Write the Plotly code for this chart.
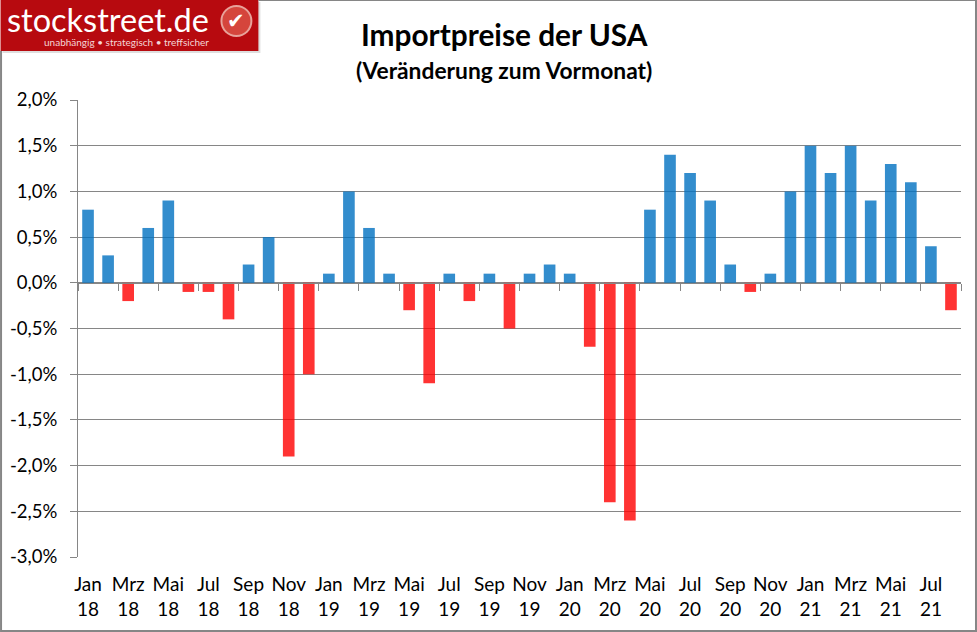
import plotly.graph_objects as go

months = ["Jan","Feb","Mrz","Apr","Mai","Jun","Jul","Aug","Sep","Okt","Nov","Dez"]*3 + ["Jan","Feb","Mrz","Apr","Mai","Jun","Jul","Aug"]
years = ["18"]*12 + ["19"]*12 + ["20"]*12 + ["21"]*8
values = [0.8,0.3,-0.2,0.6,0.9,-0.1,-0.1,-0.4,0.2,0.5,-1.9,-1.0,
          0.1,1.0,0.6,0.1,-0.3,-1.1,0.1,-0.2,0.1,-0.5,0.1,0.2,
          0.1,-0.7,-2.4,-2.6,0.8,1.4,1.2,0.9,0.2,-0.1,0.1,1.0,
          1.5,1.2,1.5,0.9,1.3,1.1,0.4,-0.3]
y_ticks = [2.0,1.5,1.0,0.5,0.0,-0.5,-1.0,-1.5,-2.0,-2.5,-3.0]
y_labels = ["2,0%","1,5%","1,0%","0,5%","0,0%","-0,5%","-1,0%","-1,5%","-2,0%","-2,5%","-3,0%"]

BLUE = "rgba(0,112,192,0.8)"
RED = "rgba(255,0,0,0.8)"
GREY = "#868686"
FONT = "Lato"
W, H = 977, 632
L, R, T, B = 77.5, 961, 100, 557
xs = list(range(len(values)))
x_range = [-0.5, len(values)-0.5]

fig = go.Figure()
fig.add_trace(go.Bar(x=xs, y=values, marker=dict(color=[BLUE if v >= 0 else RED for v in values], line_width=0),
                     width=0.58, showlegend=False))
for ax in ("x2", "x3"):
    fig.add_trace(go.Scatter(x=xs, y=values, xaxis=ax, mode="markers", marker=dict(opacity=0, size=1),
                             showlegend=False, hoverinfo="skip"))

def px(x): return (x - L) / (R - L)
def py(y): return (B - y) / (B - T)

def box(kind, x0, x1, y0, y1, fill):
    return dict(type=kind, xref="paper", yref="paper", x0=px(x0), x1=px(x1), y0=py(y0), y1=py(y1),
                fillcolor=fill, line_width=0)
def seg(x0, x1, y0, y1, width):
    return dict(type="line", xref="paper", yref="paper", x0=px(x0), x1=px(x1), y0=py(y0), y1=py(y1),
                line=dict(color=GREY, width=width))

shapes = [
    box("rect", 2, 260, 2, 53, "#dedede"),
    box("rect", 0, 258, 0, 51, "#b70a0f"),
    box("circle", 220, 252, 5, 37, "#e8a29a"),
    box("circle", 222, 250, 7, 35, "#d5453c"),
    seg(258, 977, 0.5, 0.5, 1),
    seg(976, 976, 0, 632, 2),
    seg(0, 977, 631, 631, 2),
    seg(0.5, 0.5, 51, 632, 2),
]

def note(text, x, y, size, color="black", bold=False, family=FONT, anchor="center"):
    return dict(text=f"<b>{text}</b>" if bold else text, xref="paper", yref="paper", x=px(x), y=py(y),
                xanchor=anchor, yanchor="middle", showarrow=False,
                font=dict(size=size, color=color, family=family))

annotations = [
    note("Importpreise der USA", 504, 35, 29.8, bold=True),
    note("(Veränderung zum Vormonat)", 504, 70, 22.8, bold=True),
    note("stockstreet.de", 4, 19, 32.5, color="white", anchor="left"),
    note("unabhängig • strategisch • treffsicher", 126, 42, 10, color="#f3d6d6"),
    note("✔", 236, 21, 21, color="white", family="DejaVu Sans"),
]

fig.update_layout(
    width=W, height=H, paper_bgcolor="white", plot_bgcolor="white",
    margin=dict(l=L, r=W-R, t=T, b=H-B, autoexpand=False),
    shapes=shapes, annotations=annotations, showlegend=False,
    font=dict(family=FONT, size=19, color="black"),
    xaxis=dict(range=x_range, tickmode="array", tickvals=xs[::2], ticktext=months[::2],
               ticks="", showgrid=False, zeroline=False, showline=False,
               tickfont=dict(size=19, family=FONT), ticklabelstandoff=14, automargin=False),
    xaxis2=dict(range=x_range, overlaying="x", anchor="free", position=0.6, side="bottom",
                tickmode="array", tickvals=[i-0.5 for i in range(0, len(values)+1, 2)], ticktext=[""]*23,
                ticks="outside", ticklen=7, tickwidth=1, tickcolor=GREY,
                showline=True, linecolor=GREY, linewidth=1, showgrid=False, zeroline=False),
    xaxis3=dict(range=x_range, overlaying="x", anchor="free", position=0, side="bottom",
                tickmode="array", tickvals=xs[::2], ticktext=years[::2],
                ticks="", showgrid=False, zeroline=False, showline=False,
                tickfont=dict(size=19, family=FONT), ticklabelstandoff=39),
    yaxis=dict(range=[-3, 2], tickmode="array", tickvals=y_ticks, ticktext=y_labels,
               ticks="outside", ticklen=7, tickwidth=1, tickcolor=GREY,
               showline=True, linecolor=GREY, linewidth=1,
               showgrid=True, gridcolor=GREY, gridwidth=1, zeroline=False,
               tickfont=dict(size=18.5, family=FONT), ticklabelstandoff=9, automargin=False),
)

fig.write_html("out.html", config=dict(displayModeBar=False),
               post_script="document.body.style.margin='0';")
